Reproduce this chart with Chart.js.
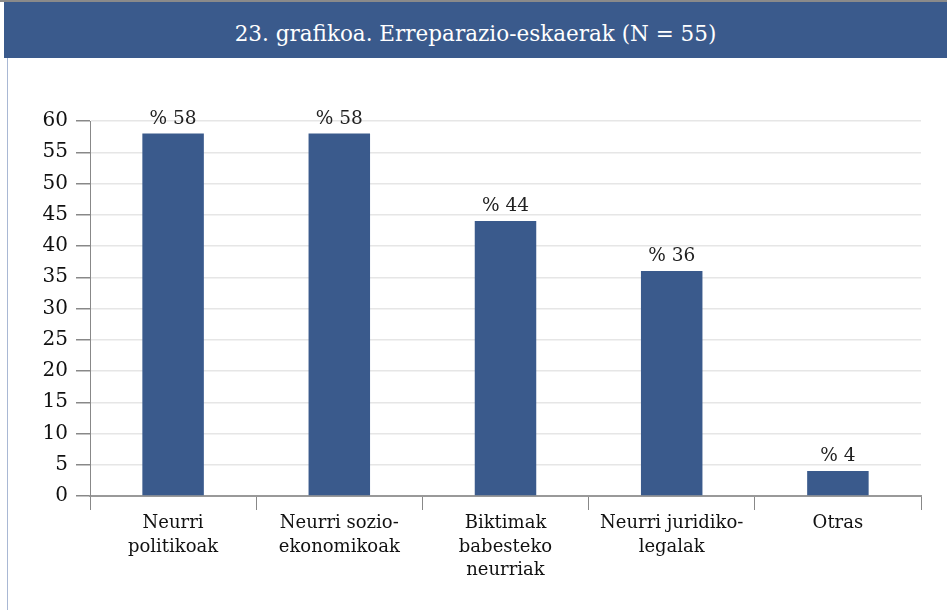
<!DOCTYPE html>
<html>
<head>
<meta charset="utf-8">
<script src="https://cdn.jsdelivr.net/npm/chart.js@4"></script>
<style>
  body { margin: 0; background: #fff; font-family: "DejaVu Serif"; }
  #page { position: relative; width: 947px; height: 610px; overflow: hidden; }
  #topline { position: absolute; left: 0; top: 0; width: 947px; height: 2px; background: #8a8a8a; }
  #title {
    position: absolute; left: 4px; top: 2px; width: 943px; height: 56px;
    background: #3a5a8c; color: #fff; font-size: 21.5px; line-height: 64px; text-align: center;
    overflow: hidden;
  }
  #box { position: absolute; left: 7px; top: 58px; width: 940px; height: 552px; border-left: 1px solid #a9b8d4; }
  #wrap { position: absolute; left: 0; top: 58px; width: 947px; height: 552px; }
</style>
</head>
<body>
<div id="page">
  <div id="topline"></div>
  <div id="title">23. grafikoa. Erreparazio-eskaerak (N = 55)</div>
  <div id="box"></div>
  <div id="wrap"><canvas id="chart" width="947" height="552"></canvas></div>
</div>
<script>
// categories and values
const categories = [
    ['Neurri', 'politikoak'],
    ['Neurri sozio-', 'ekonomikoak'],
    ['Biktimak', 'babesteko', 'neurriak'],
    ['Neurri juridiko-', 'legalak'],
    'Otras'
];
const percentages = [58, 58, 44, 36, 4];
const yTicks = [0, 5, 10, 15, 20, 25, 30, 35, 40, 45, 50, 55, 60];

const serif = '"DejaVu Serif"';

// draws "% n" above each bar
const valueLabels = {
    id: 'valueLabels',
    afterDatasetsDraw(chart) {
        const ctx = chart.ctx;
        const meta = chart.getDatasetMeta(0);
        ctx.save();
        ctx.font = '18.5px ' + serif;
        ctx.fillStyle = '#222';
        ctx.textAlign = 'center';
        ctx.textBaseline = 'alphabetic';
        meta.data.forEach((bar, i) => {
            ctx.fillText('% ' + percentages[i], bar.x, bar.y - 10);
        });
        ctx.restore();
    }
};

const ctx = document.getElementById('chart').getContext('2d');
new Chart(ctx, {
    type: 'bar',
    data: {
        labels: categories,
        datasets: [{
            data: percentages,
            backgroundColor: '#3a5a8c',
            categoryPercentage: 1,
            barPercentage: 0.37
        }]
    },
    options: {
        responsive: false,
        animation: false,
        layout: { padding: { top: 63, right: 26, left: 0, bottom: 0 } },
        plugins: { legend: { display: false }, tooltip: { enabled: false } },
        scales: {
            x: {
                offset: true,
                grid: {
                    offset: true,
                    drawOnChartArea: false,
                    drawTicks: true,
                    tickLength: 14,
                    tickColor: '#888',
                    color: '#888'
                },
                border: { color: '#999', width: 2 },
                ticks: {
                    color: '#111',
                    font: { family: serif, size: 18, lineHeight: 1.3 },
                    padding: 2,
                    maxRotation: 0,
                    autoSkip: false
                },
                afterFit(scale) { scale.height = 114; }
            },
            y: {
                min: 0,
                max: 60,
                afterBuildTicks(scale) { scale.ticks = yTicks.map(v => ({ value: v })); },
                grid: {
                    color: '#e6e6e6',
                    lineWidth: 1.5,
                    drawTicks: true,
                    tickLength: 14,
                    tickColor: '#888'
                },
                border: { color: '#888', width: 1 },
                ticks: {
                    color: '#111',
                    font: { family: serif, size: 20 },
                    padding: 8
                },
                afterFit(scale) { scale.width = 90; }
            }
        }
    },
    plugins: [valueLabels]
});
</script>
</body>
</html>
